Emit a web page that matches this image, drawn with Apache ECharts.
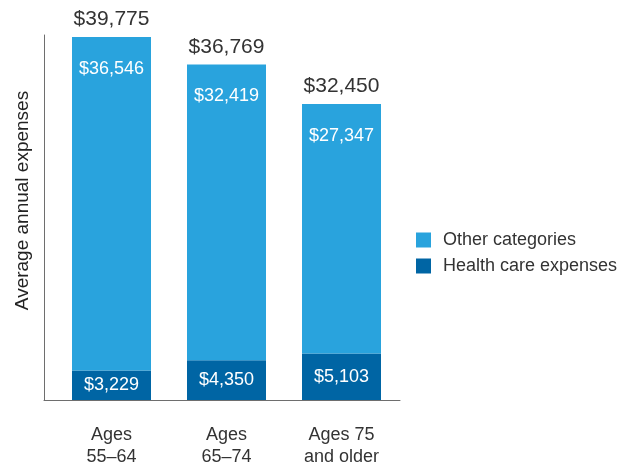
<!DOCTYPE html>
<html>
<head>
<meta charset="utf-8">
<script src="https://cdn.jsdelivr.net/npm/echarts@6/dist/echarts.min.js"></script>
<style>
    html, body { margin: 0; padding: 0; background: #fff; }
    #main { width: 632px; height: 465px; }
</style>
</head>
<body>
<div id="main"></div>
<script>
var categories = ['Ages\n55\u201364', 'Ages\n65\u201374', 'Ages 75\nand older'];
var health = [3229, 4350, 5103];
var other = [36546, 32419, 27347];
var totals = [39775, 36769, 32450];

function money(v) {
    return '$' + v.toLocaleString('en-US');
}

var font = 'Liberation Sans, Arial, sans-serif';
var axisColor = '#6e6e6e';
var myChart = echarts.init(document.getElementById('main'));
var option = {
    animation: false,
    textStyle: { fontFamily: font },
    // grid 0 holds the bars, grid 1 only draws the axis frame (starts a bit further left)
    grid: [
        { left: 54, right: 233, top: 35, bottom: 65, outerBoundsMode: 'none' },
        { left: 44, right: 232, top: 35, bottom: 65, outerBoundsMode: 'none' }
    ],
    legend: {
        orient: 'vertical',
        left: 411,
        top: 226,
        itemWidth: 15,
        itemHeight: 15,
        itemGap: 8,
        icon: 'rect',
        data: ['Other categories', 'Health care expenses'],
        textStyle: { fontSize: 18, color: '#333', fontFamily: font, padding: [0, 0, 0, 7] }
    },
    xAxis: [
        {
            type: 'category',
            gridIndex: 0,
            data: categories,
            axisLine: { show: false },
            axisTick: { show: false },
            axisLabel: { margin: 24, fontSize: 18, lineHeight: 22, color: '#333', fontFamily: font }
        },
        {
            type: 'value',
            gridIndex: 1,
            min: 0,
            max: 1,
            axisLine: { show: true, lineStyle: { color: axisColor, width: 1 } },
            axisTick: { show: false },
            axisLabel: { show: false },
            splitLine: { show: false }
        }
    ],
    yAxis: [
        {
            type: 'value',
            gridIndex: 0,
            min: 0,
            max: 40000,
            splitLine: { show: false },
            axisTick: { show: false },
            axisLabel: { show: false },
            axisLine: { show: false }
        },
        {
            type: 'value',
            gridIndex: 1,
            min: 0,
            max: 1,
            name: 'Average annual expenses',
            nameLocation: 'middle',
            nameGap: 12,
            nameTextStyle: { fontSize: 19, color: '#222', fontFamily: font, padding: [0, 0, 0, 34] },
            splitLine: { show: false },
            axisTick: { show: false },
            axisLabel: { show: false },
            axisLine: { show: true, lineStyle: { color: axisColor, width: 1 } }
        }
    ],
    series: [
        {
            name: 'Health care expenses',
            type: 'bar',
            stack: 'exp',
            barWidth: 79,
            data: health,
            itemStyle: { color: '#0065a4' },
            label: {
                show: true,
                position: 'inside',
                color: '#fff',
                fontSize: 18,
                fontFamily: font,
                formatter: function (p) { return money(p.value); }
            }
        },
        {
            name: 'Other categories',
            type: 'bar',
            stack: 'exp',
            barWidth: 79,
            data: other,
            itemStyle: { color: '#29a3dd' },
            label: {
                show: true,
                position: 'insideTop',
                distance: 23,
                color: '#fff',
                fontSize: 18,
                fontFamily: font,
                formatter: function (p) { return money(p.value); }
            }
        },
        {
            name: 'Total',
            type: 'bar',
            barWidth: 79,
            barGap: '-100%',
            z: 1,
            silent: true,
            data: totals,
            itemStyle: { color: 'rgba(0,0,0,0)' },
            label: {
                show: true,
                position: 'top',
                distance: 7,
                color: '#333',
                fontSize: 21,
                fontFamily: font,
                formatter: function (p) { return money(p.value); }
            }
        }
    ]
};
myChart.setOption(option);
</script>
</body>
</html>
